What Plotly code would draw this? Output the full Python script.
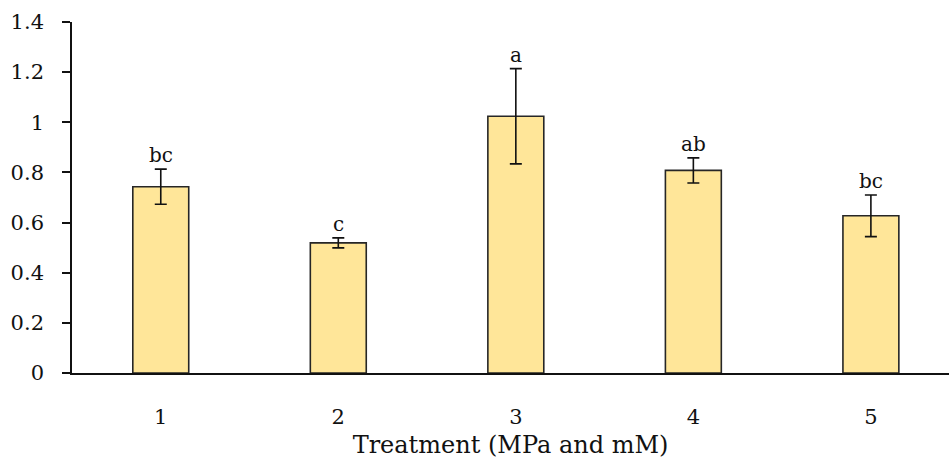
import plotly.graph_objects as go

treatments = [1, 2, 3, 4, 5]
tick_labels = ["1", "2", "3", "4", "5"]
means = [0.743, 0.519, 1.024, 0.808, 0.627]
errors = [0.070, 0.020, 0.190, 0.050, 0.083]
letters = ["bc", "c", "a", "ab", "bc"]

FONT = "DejaVu Serif"

fig = go.Figure()
fig.add_trace(go.Bar(
    x=treatments, y=means, width=0.315,
    marker=dict(color="#FFE699", line=dict(color="#262626", width=1.6)),
    error_y=dict(type="data", array=errors, visible=True,
                 color="#111111", thickness=1.6, width=6),
    showlegend=False,
))

for x, m, e, t in zip(treatments, means, errors, letters):
    fig.add_annotation(x=x, y=m + e, text=t, showarrow=False,
                       yanchor="bottom", yshift=0,
                       font=dict(family=FONT, size=20, color="#111111"))

fig.update_layout(
    width=949, height=462,
    margin=dict(l=72, r=0, t=22, b=89),
    plot_bgcolor="white", paper_bgcolor="white",
    font=dict(family=FONT, color="#111111"),
    xaxis=dict(range=[0.5, 5.44], tickvals=treatments, ticktext=tick_labels,
               showline=True, linecolor="#111111", linewidth=1.6,
               ticks="", showgrid=False, zeroline=False,
               tickfont=dict(size=21), ticklabelstandoff=24,
               title=dict(text="Treatment (MPa and mM)", font=dict(size=24),
                          standoff=8)),
    yaxis=dict(range=[0, 1.4], tickvals=[0, 0.2, 0.4, 0.6, 0.8, 1, 1.2, 1.4],
               ticktext=["0", "0.2", "0.4", "0.6", "0.8", "1", "1.2", "1.4"],
               showline=True, linecolor="#111111", linewidth=1.6,
               ticks="outside", ticklen=8, tickcolor="#111111", tickwidth=1.6,
               showgrid=False, zeroline=False,
               tickfont=dict(size=21), ticklabelstandoff=14),
)

fig.write_html("out.html")
